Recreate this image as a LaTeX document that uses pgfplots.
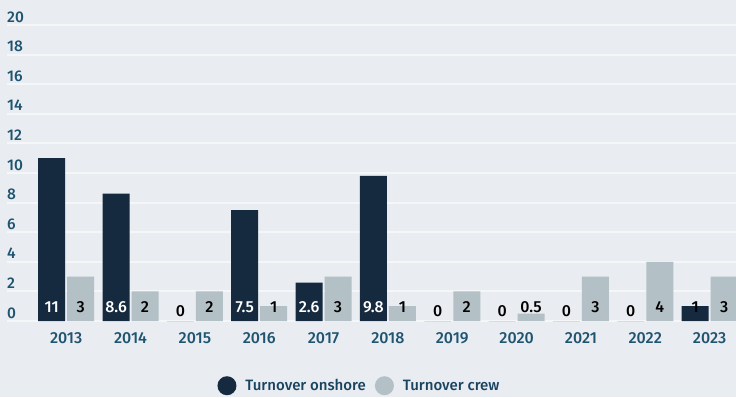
\documentclass[border=0pt]{standalone}
\usepackage{fontspec}
\setmainfont{Fira Sans}[BoldFont={Fira Sans Medium}]
\usepackage{pgfplots}
\usepgfplotslibrary{}
\pgfplotsset{compat=1.18}
\definecolor{bg}{RGB}{233,236,241}
\definecolor{gridc}{RGB}{244,246,248}
\definecolor{navy}{RGB}{21,41,63}
\definecolor{silver}{RGB}{179,192,197}
\definecolor{tickc}{RGB}{31,84,112}
\definecolor{legc}{RGB}{25,68,96}
\newcommand\barfont{\fontsize{16}{18}\selectfont\bfseries}
\begin{document}
\begin{tikzpicture}[x=1pt,y=1pt]
\fill[bg] (0,0) rectangle (736,-397);
\useasboundingbox (0,0) rectangle (736,-397);
\begin{axis}[
  at={(7pt,-321pt)}, anchor=south west,
  scale only axis, width=729pt, height=296pt,
  xmin=-0.92, xmax=10.41, ymin=0, ymax=20,
  axis line style={draw=none},
  major tick length=0pt,
  ytick={0,2,...,20},
  ymajorgrids, grid style={gridc, line width=2pt},
  xtick={0,...,10},
  xticklabels={2013,2014,2015,2016,2017,2018,2019,2020,2021,2022,2023},
  /pgf/number format/assume math mode=true,
  yticklabel style={anchor=base west, inner sep=0pt, yshift=3pt,
    font=\fontsize{15.5}{18}\selectfont\bfseries, text=tickc},
  xticklabel style={anchor=north, inner sep=0pt, yshift=-11pt,
    font=\fontsize{16}{18}\selectfont\bfseries, text=tickc},
  legend columns=2,
  legend style={draw=none, fill=none, at={(0.4835,-0.2186)}, anchor=center,
    font=\fontsize{15}{18}\selectfont\bfseries, text=legc, column sep=7pt},
]
% bars
\addplot[ybar, bar width=27pt, bar shift=-14.5pt, fill=navy, draw=none,
  legend image code/.code={\fill[navy] (9.5pt,0pt) circle (9.5pt);}]
  coordinates {(0,11) (1,8.6) (2,0) (3,7.5) (4,2.6) (5,9.8) (6,0) (7,0) (8,0) (9,0) (10,1)};
\addlegendentry{Turnover onshore}
\addplot[ybar, bar width=27pt, bar shift=14.5pt, fill=silver, draw=none,
  legend image code/.code={\fill[silver] (9.5pt,0pt) circle (9.5pt);}]
  coordinates {(0,3) (1,2) (2,2) (3,1) (4,3) (5,1) (6,2) (7,0.5) (8,3) (9,4) (10,3)};
\addlegendentry{Turnover crew}
% value labels, set at the foot of each bar
\addplot[draw=none, mark=none, forget plot, nodes near coords, point meta=explicit symbolic,
  nodes near coords style={anchor=base, inner sep=0pt, xshift=-14.5pt, yshift=9pt, text=white, font=\barfont}]
  coordinates {(0,0)[11] (1,0)[8.6] (3,0)[7.5] (4,0)[2.6] (5,0)[9.8]};
\addplot[draw=none, mark=none, forget plot, nodes near coords, point meta=explicit symbolic,
  nodes near coords style={anchor=base, inner sep=0pt, xshift=-14.5pt, yshift=9pt, text=black, font=\barfont}]
  coordinates {(10,0)[1]};
\addplot[draw=none, mark=none, forget plot, nodes near coords, point meta=explicit symbolic,
  nodes near coords style={anchor=base, inner sep=0pt, xshift=-14.5pt, yshift=4.3pt, text=black, font=\barfont}]
  coordinates {(2,0)[0] (6,0)[0] (7,0)[0] (8,0)[0] (9,0)[0]};
\addplot[draw=none, mark=none, forget plot, nodes near coords, point meta=explicit symbolic,
  nodes near coords style={anchor=base, inner sep=0pt, xshift=14.5pt, yshift=9pt, text=black, font=\barfont}]
  coordinates {(0,0)[3] (1,0)[2] (2,0)[2] (3,0)[1] (4,0)[3] (5,0)[1] (6,0)[2] (7,0)[0.5] (8,0)[3] (9,0)[4] (10,0)[3]};
\end{axis}
\end{tikzpicture}
\end{document}
